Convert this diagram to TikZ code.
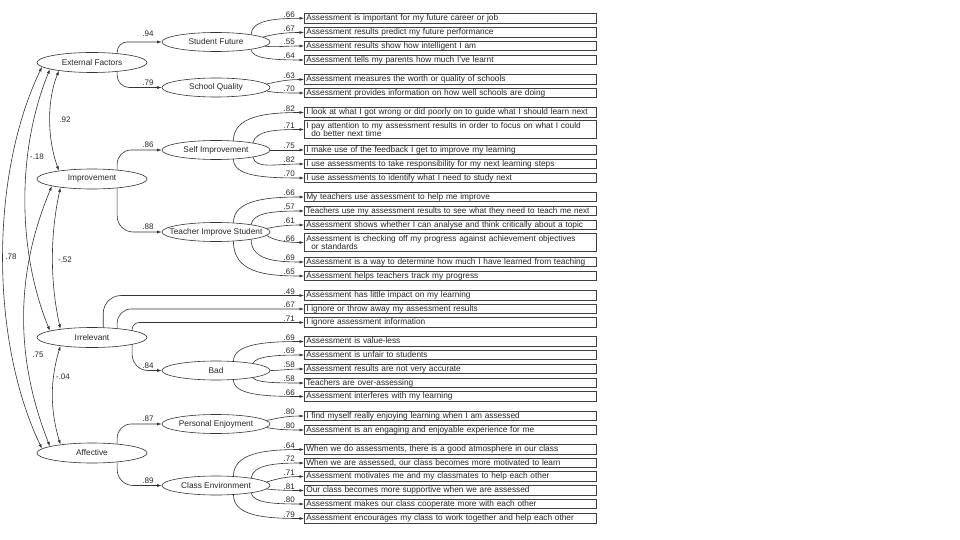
\documentclass[tikz,border=0pt]{standalone}
\usepackage{fontspec}
\setmainfont{Liberation Sans}
\usetikzlibrary{shapes.geometric,arrows.meta,calc}
\newcommand\mkz[1]{\makebox[0pt]{#1}}
\begin{document}
\begin{tikzpicture}[x=1pt,y=-1pt,
  font=\fontsize{8.3}{8.4}\selectfont, text=black!85,
  lat/.style={ellipse, draw=black!80, line width=0.6pt, minimum width=110pt, minimum height=20pt, inner sep=0pt},
  sub/.style={ellipse, draw=black!80, line width=0.6pt, minimum width=108pt, minimum height=19pt, inner sep=0pt},
  item/.style={draw=black!75, line width=0.6pt, anchor=west, text width=288pt, align=left, inner xsep=2pt, inner ysep=0pt, minimum height=9.5pt, text height=6.2pt, text depth=1.8pt},
  item2/.style={draw=black!75, line width=0.6pt, anchor=west, text width=288pt, align=left, inner xsep=2pt, inner ysep=0pt, minimum height=18pt},
  arr/.style={draw=black!80, -{Latex[length=4.5pt,width=3pt]}, line width=0.6pt},
  cor/.style={draw=black!80, {Latex[length=4.5pt,width=3pt]}-{Latex[length=4.5pt,width=3pt]}, line width=0.6pt},
  lab/.style={inner sep=0pt, font=\fontsize{8}{9}\selectfont},
  ll/.style={lab, anchor=south east},
]
\fill[white] (0,0) rectangle (960,540);
\useasboundingbox (0,0) rectangle (960,540);

% first-order factors
\node[lat] (ef)  at (92,62.5) {\mkz{External Factors}};
\node[lat] (imp) at (92,179)  {\mkz{Improvement}};
\node[lat] (irr) at (92,337.5){\mkz{Irrelevant}};
\node[lat] (aff) at (92,453)  {\mkz{Affective}};

% second-order factors
\node[sub] (sf)  at (216,42)   {\mkz{Student Future}};
\node[sub] (sq)  at (216,87.5) {\mkz{School Quality}};
\node[sub] (si)  at (216,150)  {\mkz{Self Improvement}};
\node[sub] (tis) at (216,232)  {\mkz{Teacher Improve Student}};
\node[sub] (bad) at (216,370.5){\mkz{Bad}};
\node[sub] (pe)  at (216,424)  {\mkz{Personal Enjoyment}};
\node[sub] (ce)  at (216,485.5){\mkz{Class Environment}};

% items
\node[item] (b1) at (304,18.3) {Assessment is important for my future career or job};
\node[item] (b2) at (304,32.5) {Assessment results predict my future performance};
\node[item] (b3) at (304,46) {Assessment results show how intelligent I am};
\node[item] (b4) at (304,60) {Assessment tells my parents how much I've learnt};
\node[item] (b5) at (304,79.5) {Assessment measures the worth or quality of schools};
\node[item] (b6) at (304,93) {Assessment provides information on how well schools are doing};
\node[item] (b7) at (304,112.5) {I look at what I got wrong or did poorly on to guide what I should learn next};
\node[item2] (b8) at (304,129.5) {I pay attention to my assessment results in order to focus on what I could\\\hspace*{5pt}do better next time};
\node[item] (b9) at (304,150) {I make use of the feedback I get to improve my learning};
\node[item] (b10) at (304,164) {I use assessments to take responsibility for my next learning steps};
\node[item] (b11) at (304,178) {I use assessments to identify what I need to study next};
\node[item] (b12) at (304,197) {My teachers use assessment to help me improve};
\node[item] (b13) at (304,211) {\fontsize{8.1}{8.4}\selectfont\mbox{Teachers use my assessment results to see what they need to teach me next}};
\node[item] (b14) at (304,225) {Assessment shows whether I can analyse and think critically about a topic};
\node[item2] (b15) at (304,242.5) {Assessment is checking off my progress against achievement objectives\\\hspace*{5pt}or standards};
\node[item] (b16) at (304,262) {Assessment is a way to determine how much I have learned from teaching};
\node[item] (b17) at (304,276) {Assessment helps teachers track my progress};
\node[item] (b18) at (304,295.5) {Assessment has little impact on my learning};
\node[item] (b19) at (304,309) {I ignore or throw away my assessment results};
\node[item] (b20) at (304,322.5) {I ignore assessment information};
\node[item] (b21) at (304,341.5) {Assessment is value-less};
\node[item] (b22) at (304,355) {Assessment is unfair to students};
\node[item] (b23) at (304,369) {Assessment results are not very accurate};
\node[item] (b24) at (304,383) {Teachers are over-assessing};
\node[item] (b25) at (304,396.5) {Assessment interferes with my learning};
\node[item] (b26) at (304,416) {I find myself really enjoying learning when I am assessed};
\node[item] (b27) at (304,430) {Assessment is an engaging and enjoyable experience for me};
\node[item] (b28) at (304,449.5) {When we do assessments, there is a good atmosphere in our class};
\node[item] (b29) at (304,463) {When we are assessed, our class becomes more motivated to learn};
\node[item] (b30) at (304,476.5) {Assessment motivates me and my classmates to help each other};
\node[item] (b31) at (304,490.5) {Our class becomes more supportive when we are assessed};
\node[item] (b32) at (304,504) {Assessment makes our class cooperate more with each other};
\node[item] (b33) at (304,518.5) {Assessment encourages my class to work together and help each other};

% first -> second order paths
\draw[arr, rounded corners=10pt] (ef.20)  |- (sf.west);
\draw[arr, rounded corners=12pt] (ef.340) |- (sq.west);
\draw[arr, rounded corners=14pt] (imp.20) |- (si.west);
\draw[arr, rounded corners=16pt] (imp.340)|- (tis.west);
\draw[arr, rounded corners=16pt] (irr.350)|- (bad.west);
\draw[arr, rounded corners=14pt] (aff.20) |- (pe.west);
\draw[arr, rounded corners=16pt] (aff.340)|- (ce.west);
\node[ll] (g1) at ([xshift=-8pt,yshift=5pt]sf.west) {.94};
\node[ll] (g2) at ([xshift=-8pt,yshift=2pt]sq.west) {.79};
\node[ll] (g3) at ([xshift=-8pt,yshift=2pt]si.west) {.86};
\node[ll] (g4) at ([xshift=-8pt,yshift=2pt]tis.west) {.88};
\node[ll] (g5) at ([xshift=-8pt,yshift=2pt]bad.west) {.84};
\node[ll] (g6) at ([xshift=-8pt,yshift=2pt]pe.west) {.87};
\node[ll] (g7) at ([xshift=-8pt,yshift=2pt]ce.west) {.89};

% item loadings
\draw[arr] (sf.12)  .. controls +(0,-14) and +(-30,0) .. (b1.west);
\draw[arr] (sf.6)   .. controls +(12,-3) and +(-20,0) .. (b2.west);
\draw[arr] (sf.355) .. controls +(12,1) and +(-20,0) .. (b3.west);
\draw[arr] (sf.348) .. controls +(0,9) and +(-30,0) .. (b4.west);
\draw[arr] (sq.4)   .. controls +(10,-2) and +(-18,0) .. (b5.west);
\draw[arr] (sq.356) .. controls +(10,2) and +(-18,0) .. (b6.west);
\draw[arr] (si.28)  .. controls +(0,-24) and +(-40,0) .. (b7.west);
\draw[arr] (si.11)  .. controls +(3,-12) and +(-30,0) .. (b8.west);
\draw[arr] (si.east) -- (b9.west);
\draw[arr] (si.349) .. controls +(3,12) and +(-30,0) .. (b10.west);
\draw[arr] (si.332) .. controls +(0,17) and +(-40,0) .. (b11.west);
\draw[arr] (tis.28)  .. controls +(0,-22) and +(-40,0) .. (b12.west);
\draw[arr] (tis.12)  .. controls +(2,-12) and +(-30,0) .. (b13.west);
\draw[arr] (tis.4)   .. controls +(10,-2) and +(-18,0) .. (b14.west);
\draw[arr] (tis.356) .. controls +(8,5) and +(-18,0) .. (b15.west);
\draw[arr] (tis.348) .. controls +(0,20) and +(-30,0) .. (b16.west);
\draw[arr] (tis.332) .. controls +(0,31) and +(-40,0) .. (b17.west);
\draw[arr, rounded corners=18pt] (irr.42) |- (b18.west);
\draw[arr, rounded corners=14pt] (irr.20) |- (b19.west);
\draw[arr, rounded corners=7pt]  (irr.10) |- (b20.west);
\draw[arr] (bad.28)  .. controls +(0,-17) and +(-40,0) .. (b21.west);
\draw[arr] (bad.11)  .. controls +(3,-7) and +(-28,0) .. (b22.west);
\draw[arr] (bad.east) .. controls +(10,0) and +(-15,0) .. (b23.west);
\draw[arr] (bad.349) .. controls +(3,5) and +(-28,0) .. (b24.west);
\draw[arr] (bad.332) .. controls +(0,15) and +(-40,0) .. (b25.west);
\draw[arr] (pe.4)   .. controls +(10,-2) and +(-18,0) .. (b26.west);
\draw[arr] (pe.356) .. controls +(10,2) and +(-18,0) .. (b27.west);
\draw[arr] (ce.28)  .. controls +(0,-23) and +(-40,0) .. (b28.west);
\draw[arr] (ce.12)  .. controls +(2,-13) and +(-30,0) .. (b29.west);
\draw[arr] (ce.4)   .. controls +(10,-3) and +(-18,0) .. (b30.west);
\draw[arr] (ce.356) .. controls +(10,1) and +(-18,0) .. (b31.west);
\draw[arr] (ce.348) .. controls +(2,10) and +(-30,0) .. (b32.west);
\draw[arr] (ce.332) .. controls +(0,21) and +(-40,0) .. (b33.west);

\foreach \b/\v in {1/.66,2/.67,3/.55,4/.64,5/.63,6/.70,7/.82,8/.71,9/.75,10/.82,11/.70,
  12/.66,13/.57,14/.61,15/.66,16/.69,17/.65,18/.49,19/.67,20/.71,21/.69,22/.69,23/.58,
  24/.58,25/.66,26/.80,27/.80,28/.64,29/.72,30/.71,31/.81,32/.80,33/.79}
  {\node[ll] (v\b) at ([xshift=-9pt,yshift=1pt]b\b.west) {\v};}

% correlations
\draw[cor] (ef.194) .. controls (47,100) and (47,138) .. (imp.166);
\draw[cor] (ef.189) .. controls (17,150) and (17,250) .. (irr.171);
\draw[cor] (ef.185) .. controls (-10,175) and (-10,340) .. (aff.175);
\draw[cor] (imp.195) .. controls (50,235) and (50,282) .. (irr.165);
\draw[cor] (imp.190) .. controls (15,274) and (15,358) .. (aff.171);
\draw[cor] (irr.195) .. controls (50,380) and (50,410) .. (aff.165);
\node[lab] (c1) at (65,120) {.92};
\node[lab] (c2) at (37,157) {-.18};
\node[lab] (c3) at (11,257) {.78};
\node[lab] (c4) at (65,260) {-.52};
\node[lab] (c5) at (38,355) {.75};
\node[lab] (c6) at (63,377) {-.04};
\end{tikzpicture}
\end{document}
